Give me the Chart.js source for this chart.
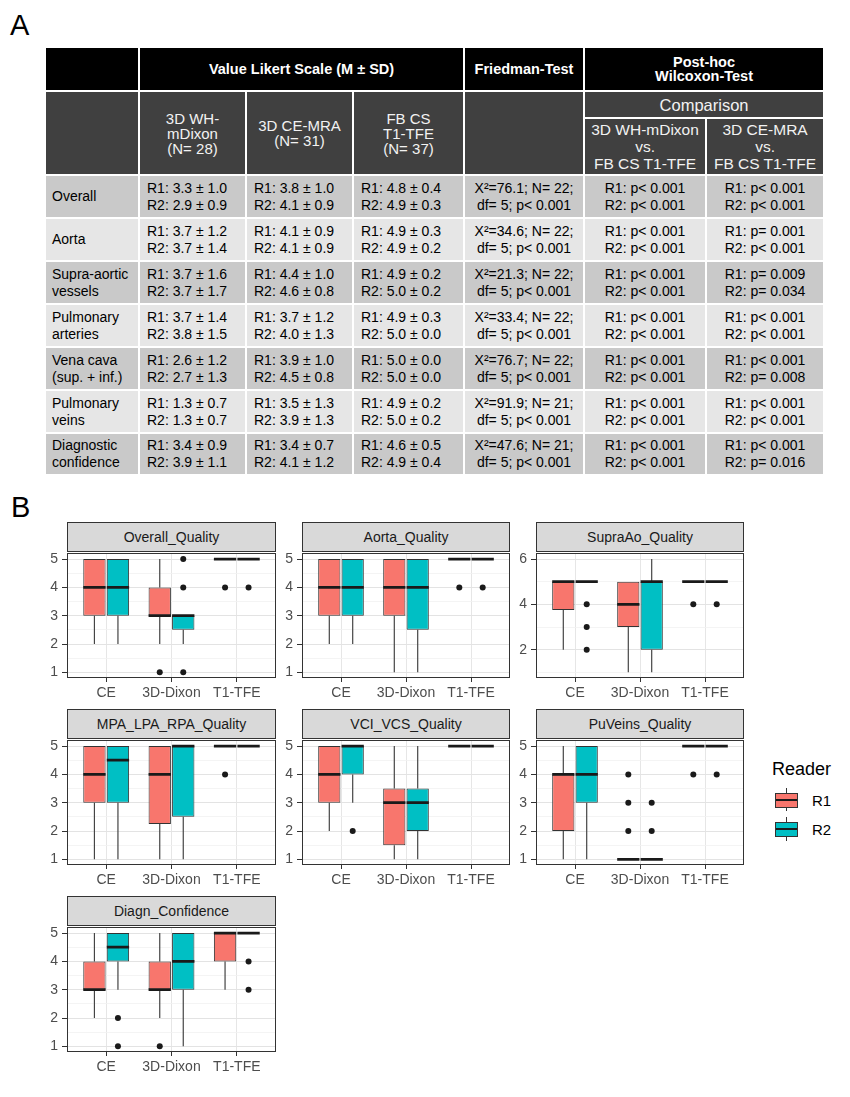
<!DOCTYPE html>
<html><head><meta charset="utf-8">
<script src="https://cdn.jsdelivr.net/npm/chart.js@4.4.0/dist/chart.umd.min.js"></script>
<style>
html,body{margin:0;padding:0;background:#fff;}
body{width:850px;height:1097px;position:relative;overflow:hidden;font-family:"Liberation Sans",Arial,Helvetica,sans-serif;}
.lab{position:absolute;font-size:29px;line-height:29px;color:#000;}
table.t{position:absolute;left:44px;top:46px;width:779px;border-collapse:collapse;table-layout:fixed;font-size:14px;}
table.t td{border:2px solid #fff;padding:0 6px;vertical-align:middle;box-sizing:border-box;}
.h1 td{background:#000;color:#fff;font-weight:bold;text-align:center;line-height:14.5px;font-size:14.5px;padding-top:6px;}
.h2 td{background:#404040;color:#f2f2f2;text-align:center;line-height:15px;font-size:15px;padding:0 2px;}
.h2 td.cmp{font-size:16.5px;line-height:18px;}
.h3 td{background:#404040;color:#f2f2f2;text-align:center;line-height:17px;font-size:15.5px;padding:0 2px;}
.b td{line-height:17px;color:#000;}
.b td.c{text-align:center;}
.b td.l1{padding-left:7px;}
.dark td{background:#c9c9c9;}
.light td{background:#e6e6e6;}
.strip{position:absolute;box-sizing:border-box;background:#d9d9d9;border:1px solid #333;color:#1a1a1a;font-size:14px;text-align:center;}
canvas{position:absolute;}
.legt{position:absolute;font-size:18px;color:#000;}
.legl{position:absolute;font-size:15px;color:#000;}
.key{position:absolute;box-sizing:border-box;border:1px solid #333;}
.kw{position:absolute;width:1px;background:#333;}
.km{position:absolute;height:2px;background:#1a1a1a;}
</style>
</head><body>
<div class="lab" style="left:10px;top:11px;">A</div>
<div class="lab" style="left:11px;top:493px;">B</div>

<table class="t">
<colgroup><col style="width:94px"><col style="width:107px"><col style="width:107px"><col style="width:111px"><col style="width:120px"><col style="width:122px"><col style="width:118px"></colgroup>
<tr class="h1" style="height:44px"><td></td><td colspan="3">Value Likert Scale (M ± SD)</td><td>Friedman-Test</td><td colspan="2">Post-hoc<br>Wilcoxon-Test</td></tr>
<tr class="h2" style="height:27px"><td rowspan="2"></td><td rowspan="2">3D WH-<br>mDixon<br>(N= 28)</td><td rowspan="2">3D CE-MRA<br>(N= 31)</td><td rowspan="2">FB CS<br>T1-TFE<br>(N= 37)</td><td rowspan="2"></td><td colspan="2" class="cmp">Comparison</td></tr>
<tr class="h3" style="height:57px"><td>3D WH-mDixon<br>vs.<br>FB CS T1-TFE</td><td>3D CE-MRA<br>vs.<br>FB CS T1-TFE</td></tr>
<tr class="b dark" style="height:43px"><td>Overall</td><td class="l1">R1: 3.3 ± 1.0<br>R2: 2.9 ± 0.9</td><td class="l1">R1: 3.8 ± 1.0<br>R2: 4.1 ± 0.9</td><td class="l1">R1: 4.8 ± 0.4<br>R2: 4.9 ± 0.3</td><td class="c">X²=76.1; N= 22;<br>df= 5; p&lt; 0.001</td><td class="c">R1: p&lt; 0.001<br>R2: p&lt; 0.001</td><td class="c">R1: p&lt; 0.001<br>R2: p&lt; 0.001</td></tr>
<tr class="b light" style="height:43px"><td>Aorta</td><td class="l1">R1: 3.7 ± 1.2<br>R2: 3.7 ± 1.4</td><td class="l1">R1: 4.1 ± 0.9<br>R2: 4.1 ± 0.9</td><td class="l1">R1: 4.9 ± 0.3<br>R2: 4.9 ± 0.2</td><td class="c">X²=34.6; N= 22;<br>df= 5; p&lt; 0.001</td><td class="c">R1: p&lt; 0.001<br>R2: p&lt; 0.001</td><td class="c">R1: p= 0.001<br>R2: p&lt; 0.001</td></tr>
<tr class="b dark" style="height:43px"><td>Supra-aortic<br>vessels</td><td class="l1">R1: 3.7 ± 1.6<br>R2: 3.7 ± 1.7</td><td class="l1">R1: 4.4 ± 1.0<br>R2: 4.6 ± 0.8</td><td class="l1">R1: 4.9 ± 0.2<br>R2: 5.0 ± 0.2</td><td class="c">X²=21.3; N= 22;<br>df= 5; p&lt; 0.001</td><td class="c">R1: p&lt; 0.001<br>R2: p&lt; 0.001</td><td class="c">R1: p= 0.009<br>R2: p= 0.034</td></tr>
<tr class="b light" style="height:43px"><td>Pulmonary<br>arteries</td><td class="l1">R1: 3.7 ± 1.4<br>R2: 3.8 ± 1.5</td><td class="l1">R1: 3.7 ± 1.2<br>R2: 4.0 ± 1.3</td><td class="l1">R1: 4.9 ± 0.3<br>R2: 5.0 ± 0.0</td><td class="c">X²=33.4; N= 22;<br>df= 5; p&lt; 0.001</td><td class="c">R1: p&lt; 0.001<br>R2: p&lt; 0.001</td><td class="c">R1: p&lt; 0.001<br>R2: p&lt; 0.001</td></tr>
<tr class="b dark" style="height:43px"><td>Vena cava<br>(sup. + inf.)</td><td class="l1">R1: 2.6 ± 1.2<br>R2: 2.7 ± 1.3</td><td class="l1">R1: 3.9 ± 1.0<br>R2: 4.5 ± 0.8</td><td class="l1">R1: 5.0 ± 0.0<br>R2: 5.0 ± 0.0</td><td class="c">X²=76.7; N= 22;<br>df= 5; p&lt; 0.001</td><td class="c">R1: p&lt; 0.001<br>R2: p&lt; 0.001</td><td class="c">R1: p&lt; 0.001<br>R2: p= 0.008</td></tr>
<tr class="b light" style="height:43px"><td>Pulmonary<br>veins</td><td class="l1">R1: 1.3 ± 0.7<br>R2: 1.3 ± 0.7</td><td class="l1">R1: 3.5 ± 1.3<br>R2: 3.9 ± 1.3</td><td class="l1">R1: 4.9 ± 0.2<br>R2: 5.0 ± 0.2</td><td class="c">X²=91.9; N= 21;<br>df= 5; p&lt; 0.001</td><td class="c">R1: p&lt; 0.001<br>R2: p&lt; 0.001</td><td class="c">R1: p&lt; 0.001<br>R2: p&lt; 0.001</td></tr>
<tr class="b dark" style="height:42px"><td>Diagnostic<br>confidence</td><td class="l1">R1: 3.4 ± 0.9<br>R2: 3.9 ± 1.1</td><td class="l1">R1: 3.4 ± 0.7<br>R2: 4.1 ± 1.2</td><td class="l1">R1: 4.6 ± 0.5<br>R2: 4.9 ± 0.4</td><td class="c">X²=47.6; N= 21;<br>df= 5; p&lt; 0.001</td><td class="c">R1: p&lt; 0.001<br>R2: p&lt; 0.001</td><td class="c">R1: p&lt; 0.001<br>R2: p= 0.016</td></tr>
</table>

<div class="legt" style="left:772px;top:759px;">Reader</div>
<div class="kw" style="left:786px;top:788px;height:23px;"></div>
<div class="key" style="left:775px;top:793px;width:23px;height:15px;background:#F8766D;"></div>
<div class="km" style="left:776px;top:799px;width:21px;"></div>
<div class="legl" style="left:812px;top:792px;">R1</div>
<div class="kw" style="left:786px;top:817px;height:24px;"></div>
<div class="key" style="left:775px;top:822px;width:23px;height:15px;background:#00BFC4;"></div>
<div class="km" style="left:776px;top:828px;width:21px;"></div>
<div class="legl" style="left:812px;top:821px;">R2</div>

<script>
// ---------------- data ----------------
const categories = ['CE', '3D-Dixon', 'T1-TFE'];
const readers = ['R1', 'R2'];
const panelTitles = ['Overall_Quality', 'Aorta_Quality', 'SupraAo_Quality', 'MPA_LPA_RPA_Quality', 'VCI_VCS_Quality', 'PuVeins_Quality', 'Diagn_Confidence'];
// box statistics per category: [lower whisker, Q1, median, Q3, upper whisker]
const overallR1 = [[2, 3, 4, 5, 5], [2, 3, 3, 4, 5], [5, 5, 5, 5, 5]];
const overallR2 = [[2, 3, 4, 5, 5], [2, 2.5, 3, 3, 3], [5, 5, 5, 5, 5]];
const overallOutR1 = [[], [1], [4]];
const overallOutR2 = [[], [1, 4, 5], [4]];
const aortaR1 = [[2, 3, 4, 5, 5], [1, 3, 4, 5, 5], [5, 5, 5, 5, 5]];
const aortaR2 = [[2, 3, 4, 5, 5], [1, 2.5, 4, 5, 5], [5, 5, 5, 5, 5]];
const aortaOutR1 = [[], [], [4]];
const aortaOutR2 = [[], [], [4]];
const supraR1 = [[2, 3.75, 5, 5, 5], [1, 3, 4, 5, 5], [5, 5, 5, 5, 5]];
const supraR2 = [[5, 5, 5, 5, 5], [1, 2, 5, 5, 6], [5, 5, 5, 5, 5]];
const supraOutR1 = [[], [], [4]];
const supraOutR2 = [[2, 3, 4], [], [4]];
const mpaR1 = [[1, 3, 4, 5, 5], [1, 2.25, 4, 5, 5], [5, 5, 5, 5, 5]];
const mpaR2 = [[1, 3, 4.5, 5, 5], [1, 2.5, 5, 5, 5], [5, 5, 5, 5, 5]];
const mpaOutR1 = [[], [], [4]];
const mpaOutR2 = [[], [], []];
const vcR1 = [[2, 3, 4, 5, 5], [1, 1.5, 3, 3.5, 5], [5, 5, 5, 5, 5]];
const vcR2 = [[3, 4, 5, 5, 5], [1, 2, 3, 3.5, 5], [5, 5, 5, 5, 5]];
const vcOutR1 = [[], [], []];
const vcOutR2 = [[2], [], []];
const puvR1 = [[1, 2, 4, 4, 5], [1, 1, 1, 1, 1], [5, 5, 5, 5, 5]];
const puvR2 = [[1, 3, 4, 5, 5], [1, 1, 1, 1, 1], [5, 5, 5, 5, 5]];
const puvOutR1 = [[], [2, 3, 4], [4]];
const puvOutR2 = [[], [2, 3], [4]];
const diagR1 = [[2, 3, 3, 4, 5], [2, 3, 3, 4, 5], [3, 4, 5, 5, 5]];
const diagR2 = [[3, 4, 4.5, 5, 5], [1, 3, 4, 5, 5], [5, 5, 5, 5, 5]];
const diagOutR1 = [[], [1], []];
const diagOutR2 = [[1, 2], [], [3, 4]];

const panelStats = [
  [overallR1, overallR2, overallOutR1, overallOutR2],
  [aortaR1, aortaR2, aortaOutR1, aortaOutR2],
  [supraR1, supraR2, supraOutR1, supraOutR2],
  [mpaR1, mpaR2, mpaOutR1, mpaOutR2],
  [vcR1, vcR2, vcOutR1, vcOutR2],
  [puvR1, puvR2, puvOutR1, puvOutR2],
  [diagR1, diagR2, diagOutR1, diagOutR2]
];

// ---------------- layout / style ----------------
const COL_L = [67, 302, 536], COL_R = [276, 510, 744];
const ROW_T = [551, 738, 925], ROW_B = [678, 865, 1052];
const STRIP_H = 29;
const PADL = 30, PADT = 10, PADR = 6, PADB = 30;
const COLORS = ['#F8766D', '#00BFC4'];
const DODGE = 0.18, BAR_RATIO = 0.95, HALF_BOX = DODGE * BAR_RATIO;
const FONT = '"Liberation Sans", Arial, sans-serif';

function boxData(stats) { return stats.map((s, i) => ({x: i + 1, y: [s[1], s[3]]})); }
function whiskerData(stats, off) {
  const p = [];
  stats.forEach((s, i) => {
    const x = i + 1 + off;
    p.push({x, y: s[0]}, {x, y: s[1]}, {x, y: null}, {x, y: s[3]}, {x, y: s[4]}, {x, y: null});
  });
  return p;
}
function medianData(stats, off) {
  const p = [];
  stats.forEach((s, i) => {
    const x = i + 1 + off;
    p.push({x: x - HALF_BOX, y: s[2]}, {x: x + HALF_BOX, y: s[2]}, {x: x + HALF_BOX, y: null});
  });
  return p;
}
function outlierData(outs, off) {
  const p = [];
  outs.forEach((o, i) => o.forEach(v => p.push({x: i + 1 + off, y: v})));
  return p;
}

const borderPlugin = {
  id: 'panelBorder',
  afterDraw(chart) {
    const {ctx, chartArea: a} = chart;
    ctx.save();
    ctx.strokeStyle = '#333';
    ctx.lineWidth = 1;
    ctx.strokeRect(Math.round(a.left) + 0.5, Math.round(a.top) + 0.5, Math.round(a.right - a.left) - 1, Math.round(a.bottom - a.top) - 1);
    ctx.restore();
  }
};

panelTitles.forEach((title, idx) => {
  const [r1, r2, o1, o2] = panelStats[idx];
  const col = idx % 3, row = Math.floor(idx / 3);
  const L = COL_L[col], R = COL_R[col], T = ROW_T[row], B = ROW_B[row];

  const strip = document.createElement('div');
  strip.className = 'strip';
  strip.style.left = L + 'px';
  strip.style.top = (T - STRIP_H) + 'px';
  strip.style.width = (R - L) + 'px';
  strip.style.height = (STRIP_H + 1) + 'px';
  strip.style.lineHeight = (STRIP_H - 1) + 'px';
  strip.textContent = title;
  document.body.appendChild(strip);

  const cv = document.createElement('canvas');
  const w = R - L + PADL + PADR, h = B - T + PADT + PADB;
  cv.width = w; cv.height = h;
  cv.style.left = (L - PADL) + 'px';
  cv.style.top = (T - PADT) + 'px';
  cv.style.width = w + 'px'; cv.style.height = h + 'px';
  document.body.appendChild(cv);

  const all = [...r1.flat(), ...r2.flat(), ...o1.flat(), ...o2.flat()];
  const lo = Math.min(...all), hi = Math.max(...all);
  const pad = (hi - lo) * 0.05;
  const step = (hi - lo) > 4 ? 2 : 1;
  const half = step / 2;
  const yTicks = [];
  for (let v = Math.ceil((lo - pad) / half) * half; v <= hi + pad + 1e-9; v += half) yTicks.push(v);
  const isMajor = v => Math.abs(v / step - Math.round(v / step)) < 1e-9;

  new Chart(cv, {
    type: 'bar',
    data: {
      datasets: [
        {type: 'line', label: 'median R1', data: medianData(r1, -DODGE), borderColor: '#1a1a1a', borderWidth: 2.8, borderCapStyle: 'butt', pointRadius: 0, spanGaps: false, order: 0},
        {type: 'line', label: 'median R2', data: medianData(r2, DODGE), borderColor: '#1a1a1a', borderWidth: 2.8, borderCapStyle: 'butt', pointRadius: 0, spanGaps: false, order: 0},
        {type: 'line', label: 'outliers R1', data: outlierData(o1, -DODGE), showLine: false, pointRadius: 3, pointBackgroundColor: '#1a1a1a', pointBorderWidth: 0, order: 1},
        {type: 'line', label: 'outliers R2', data: outlierData(o2, DODGE), showLine: false, pointRadius: 3, pointBackgroundColor: '#1a1a1a', pointBorderWidth: 0, order: 1},
        {type: 'bar', label: readers[0], data: boxData(r1), backgroundColor: COLORS[0], borderColor: '#333', borderWidth: 1, borderSkipped: false, categoryPercentage: 4 * DODGE, barPercentage: BAR_RATIO, order: 2},
        {type: 'bar', label: readers[1], data: boxData(r2), backgroundColor: COLORS[1], borderColor: '#333', borderWidth: 1, borderSkipped: false, categoryPercentage: 4 * DODGE, barPercentage: BAR_RATIO, order: 2},
        {type: 'line', label: 'whisker R1', data: whiskerData(r1, -DODGE), borderColor: '#444', borderWidth: 1.2, pointRadius: 0, spanGaps: false, order: 3},
        {type: 'line', label: 'whisker R2', data: whiskerData(r2, DODGE), borderColor: '#444', borderWidth: 1.2, pointRadius: 0, spanGaps: false, order: 3}
      ]
    },
    options: {
      responsive: false,
      animation: false,
      devicePixelRatio: 1,
      layout: {padding: {left: 0, top: PADT, right: PADR, bottom: 0}},
      plugins: {legend: {display: false}, tooltip: {enabled: false}},
      scales: {
        x: {
          type: 'linear', min: 0.4, max: 3.6, offset: false,
          afterBuildTicks: s => { s.ticks = categories.map((c, i) => ({value: i + 1})); },
          afterFit: s => { s.height = PADB; },
          grid: {offset: false, color: '#e6e6e6', lineWidth: 1, tickColor: '#333', tickLength: 4, drawTicks: true},
          border: {display: false},
          ticks: {autoSkip: false, maxRotation: 0, padding: 3, color: '#4d4d4d', font: {family: FONT, size: 14},
                  callback: v => categories[Math.round(v) - 1]}
        },
        y: {
          type: 'linear', min: lo - pad, max: hi + pad,
          afterBuildTicks: s => { s.ticks = yTicks.map(v => ({value: v})); },
          afterFit: s => { s.width = PADL; },
          grid: {
            color: c => (c.tick && isMajor(c.tick.value)) ? '#e3e3e3' : '#f1f1f1',
            lineWidth: c => (c.tick && isMajor(c.tick.value)) ? 1 : 0.8,
            tickColor: c => (c.tick && isMajor(c.tick.value)) ? '#333' : 'rgba(0,0,0,0)',
            tickLength: 5, drawTicks: true
          },
          border: {display: false},
          ticks: {autoSkip: false, padding: 4, color: '#4d4d4d', font: {family: FONT, size: 14},
                  callback: v => isMajor(v) ? String(Math.round(v)) : ''}
        }
      }
    },
    plugins: [borderPlugin]
  });
});
</script>
</body></html>
